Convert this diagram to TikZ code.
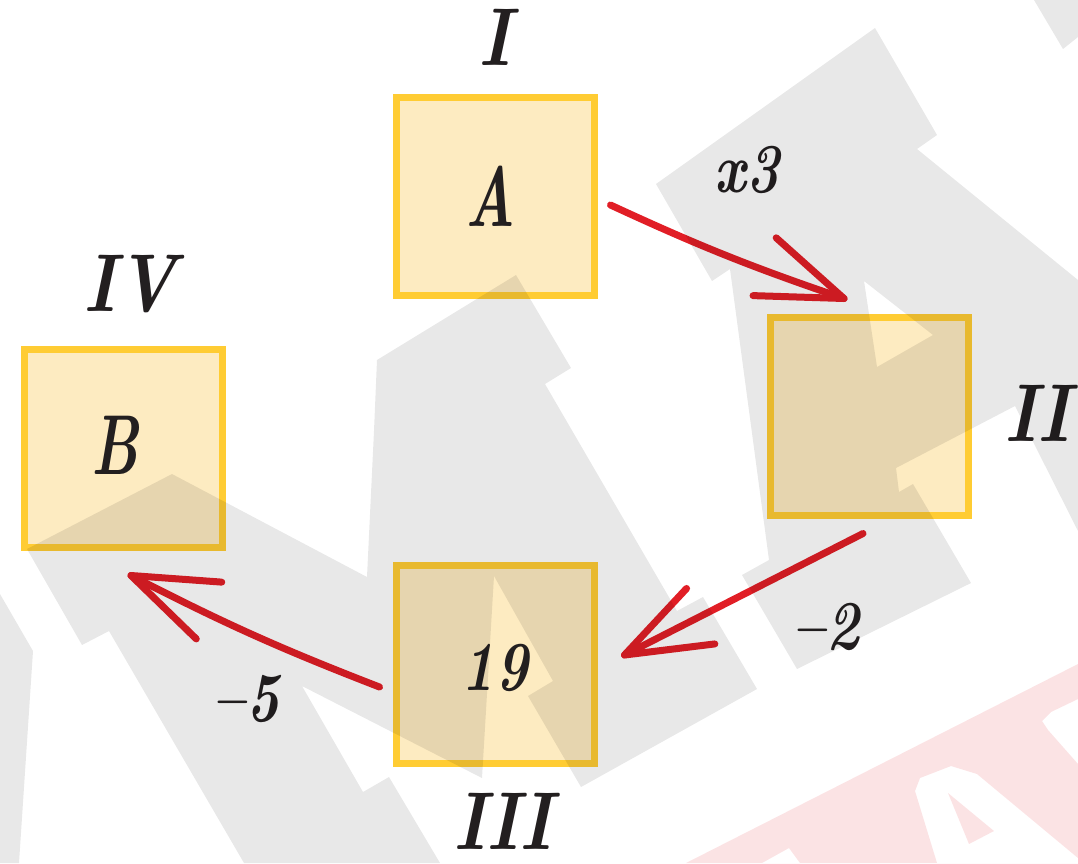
\documentclass[tikz,border=0pt]{standalone}
\usepackage{fontspec}
\usetikzlibrary{calc}
\newfontfamily\handN{Latin Modern Roman}[FakeStretch=0.85]
\newfontfamily\handL{Latin Modern Roman}[FakeStretch=0.68]
\newfontfamily\handD{Latin Modern Roman}[FakeStretch=0.8]
\definecolor{boxline}{RGB}{255,204,51}
\definecolor{boxfill}{RGB}{253,235,193}
\definecolor{arrred}{RGB}{225,30,38}
\definecolor{ink}{RGB}{35,31,32}
\definecolor{wmred}{RGB}{230,30,40}
\begin{document}
\begin{tikzpicture}[x=1pt,y=-1pt,
  box/.style={draw=boxline, fill=boxfill, line width=7pt, minimum size=198pt, inner sep=0pt},
  roman/.style={inner sep=0pt, text=ink, font=\handN\bfseries\itshape\fontsize{82}{82}\selectfont},
  letter/.style={inner sep=0pt, text=ink, font=\handL\bfseries\itshape\fontsize{85}{85}\selectfont},
  num/.style={inner sep=0pt, text=ink, font=\handD\bfseries\itshape\fontsize{70}{70}\selectfont},
  arr/.style={draw=arrred, line width=7pt, line cap=round, line join=round},
]
\useasboundingbox (0,0) rectangle (1078,863);
\fill[white] (0,0) rectangle (1078,863);

% boxes
\node[box] (boxI) at (495,196) {};
\node[box] (boxII) at (869,416.5) {};
\node[box] (boxIII) at (495.5,664.5) {};
\node[box] (boxIV) at (123,448) {};

% box contents
\node[letter] (tA) at (491,196) {A};
\node[letter] (tB) at (115,445) {B};
\node[num] (t19) at (495,668) {19};

% roman numerals
\node[roman] (lI) at (495,37) {I};
\node[roman, anchor=west] (lII) at (1004,413) {II};
\node[roman] (lIII) at (503,821) {III};
\node[roman] (lIV) at (130,284) {IV};

% operation labels
\node[num] (op1) at (747,170) {x3};
\node[num] (op2) at (826,627) {–2};
\node[num] (op3) at (246,699) {–5};

% connectors
\coordinate (s1) at ($(boxI.east)+(13,9)$);
\coordinate (t1) at ($(boxII.north)+(-25,-15.5)$);
\coordinate (s2) at ($(boxII.south)+(-6,14.5)$);
\coordinate (t2) at ($(boxIII.east)+(26.5,-9.5)$);
\coordinate (s3) at ($(boxIII.west)+(-13.5,22.5)$);
\coordinate (t3) at ($(boxIV.south)+(8,25)$);

\draw[arr] (s1) to[bend right=3] (t1);
\draw[arr] ($(t1)!91pt!20:(s1)$) -- (t1) -- ($(t1)!91pt!-20:(s1)$);
\draw[arr] (s2) -- (t2);
\draw[arr] ($(t2)!91pt!20:(s2)$) -- (t2) -- ($(t2)!91pt!-20:(s2)$);
\draw[arr] (s3) to[bend left=3] (t3);
\draw[arr] ($(t3)!91pt!20:(s3)$) -- (t3) -- ($(t3)!91pt!-20:(s3)$);

% watermark (grey)
\fill[black, fill opacity=0.09, even odd rule]
 (656,184) -- (875,28) -- (937,135) -- (917,149) -- (1078,280) -- (1078,531) -- (1015,406) -- (896,468) -- (899,492) -- (913,484) -- (971,583) -- (797,669) -- (742,575) -- (769,560) -- (730,269) -- (712,281) -- cycle
 (864,281) -- (933,335) -- (877,367) -- cycle
 (516,275) -- (571,368) -- (545,384) -- (677,611) -- (703,597) -- (757,689) -- (581,787) -- (528,696) -- (553,681) -- (494,576) -- (482,778) -- (302,686) -- (363,792) -- (389,777) -- (440,863) -- (244,863) -- (109,631) -- (82,645) -- (27,549) -- (172,474) -- (367,577) -- (374,431) -- (377,360) -- cycle
 (0,594) -- (33,651) -- (19,863) -- (0,863) -- cycle
 (1034,0) -- (1078,0) -- (1078,37) -- (1063,49) -- cycle;

% watermark (pink)
\fill[wmred, fill opacity=0.12, even odd rule]
 (686,863) -- (1078,664) -- (1078,863) -- cycle
 (937,863) -- (915,791) -- (920,778) -- (951,766) -- (977,774) -- (1078,858) -- (1078,863) -- cycle
 (948,793) -- (994,831) -- (969,844) -- cycle
 (1042,721) -- (1051,712) -- (1078,699) -- (1078,764) -- (1048,730) -- cycle
 (762,863) -- (789,848) -- (800,863) -- cycle;
\end{tikzpicture}
\end{document}
